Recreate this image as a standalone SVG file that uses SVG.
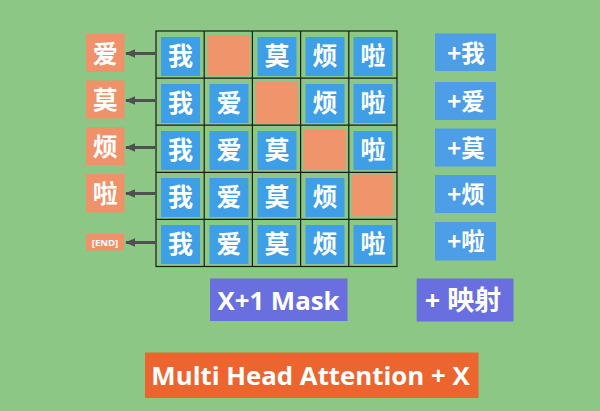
<svg xmlns="http://www.w3.org/2000/svg" width="600" height="411" viewBox="0 0 600 411">
<defs>
<style>
.bg{fill:#8cc785}
.cell{fill:#3e9fe6}
.mask{fill:#ef946b}
.lbl{fill:#ef926a}
.add{fill:#4d9ee6}
.grid{stroke:#1a1a1a;stroke-width:1.2;fill:none}
.cj{font-family:"Noto Sans CJK SC","Noto Sans",sans-serif;font-weight:700;fill:#fff;text-anchor:middle}
.c{font-size:25px}
.en{font-family:"Open Sans","Noto Sans CJK SC",sans-serif;font-weight:700;fill:#fff;text-anchor:middle}
.arr{stroke:#505050;stroke-width:3;fill:none;marker-end:url(#ah)}
</style>
<marker id="ah" viewBox="0 0 10 10" refX="9" refY="5" markerWidth="3.4" markerHeight="3.4" orient="auto" markerUnits="strokeWidth">
<path d="M0,0.8 L10,5 L0,9.2 z" fill="#505050"/>
</marker>
</defs>
<rect class="bg" x="0" y="0" width="600" height="411"/>

<g id="grid">
<rect class="grid" x="156" y="31" width="241" height="235.5"/>
<path class="grid" d="M204.2,31V266.5M252.4,31V266.5M300.6,31V266.5M348.8,31V266.5M156,78.1H397M156,125.2H397M156,172.3H397M156,219.4H397"/>
</g>

<g id="row1">
<rect class="cell" x="161" y="37" width="39" height="39"/><text class="cj c" x="180.5" y="65">我</text>
<rect class="mask" x="207.5" y="35" width="42.5" height="41"/>
<rect class="cell" x="257.5" y="37" width="39" height="39"/><text class="cj c" x="277" y="65">莫</text>
<rect class="cell" x="305.5" y="37" width="39" height="39"/><text class="cj c" x="325" y="65">烦</text>
<rect class="cell" x="353.5" y="37" width="39" height="39"/><text class="cj c" x="373" y="65">啦</text>
</g>
<g id="row2">
<rect class="cell" x="161" y="84" width="39" height="39"/><text class="cj c" x="180.5" y="112">我</text>
<rect class="cell" x="209.5" y="84" width="39" height="39"/><text class="cj c" x="229" y="112">爱</text>
<rect class="mask" x="255.5" y="82" width="42.5" height="41"/>
<rect class="cell" x="305.5" y="84" width="39" height="39"/><text class="cj c" x="325" y="112">烦</text>
<rect class="cell" x="353.5" y="84" width="39" height="39"/><text class="cj c" x="373" y="112">啦</text>
</g>
<g id="row3">
<rect class="cell" x="161" y="131" width="39" height="39"/><text class="cj c" x="180.5" y="159">我</text>
<rect class="cell" x="209.5" y="131" width="39" height="39"/><text class="cj c" x="229" y="159">爱</text>
<rect class="cell" x="257.5" y="131" width="39" height="39"/><text class="cj c" x="277" y="159">莫</text>
<rect class="mask" x="303.5" y="129" width="42.5" height="41"/>
<rect class="cell" x="353.5" y="131" width="39" height="39"/><text class="cj c" x="373" y="159">啦</text>
</g>
<g id="row4">
<rect class="cell" x="161" y="178" width="39" height="39"/><text class="cj c" x="180.5" y="206">我</text>
<rect class="cell" x="209.5" y="178" width="39" height="39"/><text class="cj c" x="229" y="206">爱</text>
<rect class="cell" x="257.5" y="178" width="39" height="39"/><text class="cj c" x="277" y="206">莫</text>
<rect class="cell" x="305.5" y="178" width="39" height="39"/><text class="cj c" x="325" y="206">烦</text>
<rect class="mask" x="351.7" y="174.5" width="41.6" height="41.7"/>
</g>
<g id="row5">
<rect class="cell" x="161" y="225" width="39" height="39"/><text class="cj c" x="180.5" y="253">我</text>
<rect class="cell" x="209.5" y="225" width="39" height="39"/><text class="cj c" x="229" y="253">爱</text>
<rect class="cell" x="257.5" y="225" width="39" height="39"/><text class="cj c" x="277" y="253">莫</text>
<rect class="cell" x="305.5" y="225" width="39" height="39"/><text class="cj c" x="325" y="253">烦</text>
<rect class="cell" x="353.5" y="225" width="39" height="39"/><text class="cj c" x="373" y="253">啦</text>
</g>

<g id="out1"><rect class="lbl" x="86" y="34" width="38.5" height="38"/><text class="cj c" x="105.2" y="62.5">爱</text></g>
<g id="out2"><rect class="lbl" x="86" y="80.5" width="38.5" height="38"/><text class="cj c" x="105.2" y="109">莫</text></g>
<g id="out3"><rect class="lbl" x="86" y="127" width="38.5" height="38"/><text class="cj c" x="105.2" y="155.5">烦</text></g>
<g id="out4"><rect class="lbl" x="86" y="174" width="38.5" height="38.5"/><text class="cj c" x="105.2" y="202.5">啦</text></g>
<g id="out5"><rect class="lbl" x="86" y="234" width="38" height="16.5"/><text class="en" x="105" y="245.8" font-size="9.5" font-weight="600">[END]</text></g>

<g id="connectors">
<line class="arr" x1="155" y1="53.5" x2="126" y2="53.5"/>
<line class="arr" x1="155" y1="100.5" x2="126" y2="100.5"/>
<line class="arr" x1="155" y1="147.5" x2="126" y2="147.5"/>
<line class="arr" x1="155" y1="193.5" x2="126" y2="193.5"/>
<line class="arr" x1="155" y1="242.5" x2="126" y2="242.5"/>
</g>

<g id="add1"><rect class="add" x="435" y="33.5" width="61" height="37.5"/><text class="cj" x="466" y="62" font-size="23.5">+我</text></g>
<g id="add2"><rect class="add" x="435" y="82" width="61" height="38"/><text class="cj" x="466" y="110" font-size="23.5">+爱</text></g>
<g id="add3"><rect class="add" x="435" y="128.5" width="61" height="38"/><text class="cj" x="466" y="156.5" font-size="23.5">+莫</text></g>
<g id="add4"><rect class="add" x="435" y="175" width="61" height="38"/><text class="cj" x="466" y="203" font-size="23.5">+烦</text></g>
<g id="add5"><rect class="add" x="435" y="222" width="61" height="38.5"/><text class="cj" x="466" y="250" font-size="23.5">+啦</text></g>

<g id="mask-label"><rect x="210" y="278.5" width="137.5" height="42.5" fill="#6a6fe0"/><text class="en" x="278.5" y="310" font-size="25.8">X+1 Mask</text></g>
<g id="map-label"><rect x="416.7" y="278.5" width="96.8" height="43" fill="#6a6fe0"/><text class="en" x="463" y="310" font-size="27">+ 映射</text></g>
<g id="mha-label"><rect x="145" y="352.5" width="333.5" height="45.5" fill="#ec652f"/><text class="en" x="310.5" y="385" font-size="25.8">Multi Head Attention + X</text></g>
</svg>
